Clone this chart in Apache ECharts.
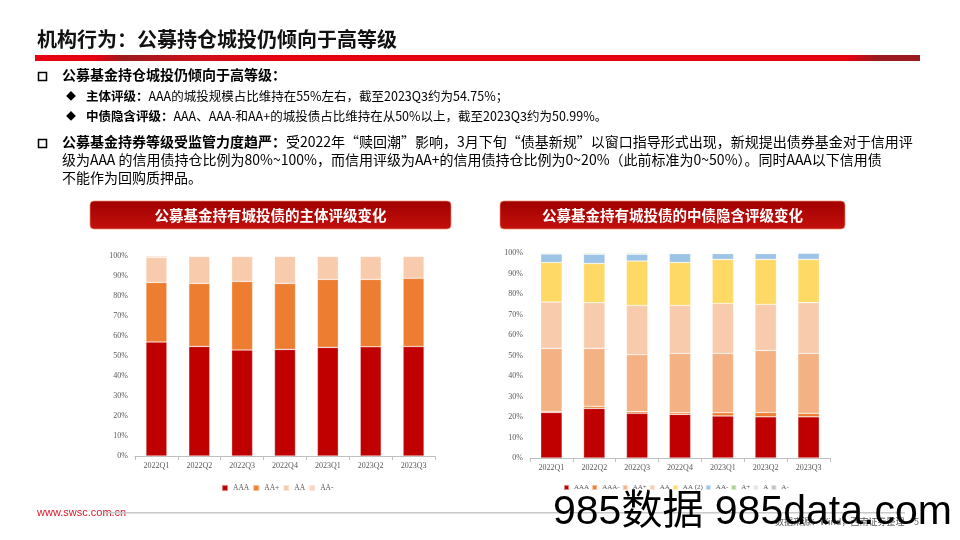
<!DOCTYPE html>
<html><head><meta charset="utf-8">
<script src="https://cdn.jsdelivr.net/npm/echarts@6/dist/echarts.min.js"></script>
<style>html,body{margin:0;padding:0;background:#fff}#c{width:960px;height:540px}</style>
</head><body><div id="c"></div>
<script>
// ---- data ----
var quarters = ['2022Q1','2022Q2','2022Q3','2022Q4','2023Q1','2023Q2','2023Q3'];
var yTicks = [0,10,20,30,40,50,60,70,80,90,100];
// Left chart: issuer rating (%)
var L_AAA = [57.0, 54.8, 53.0, 53.3, 54.3, 54.6, 54.75];
var L_AAp = [29.8, 31.5, 34.3, 33.0, 34.0, 33.7, 34.1];
var L_AA  = [12.5, 13.5, 12.5, 13.5, 11.5, 11.5, 11.0];
var L_AAm = [0.7, 0.2, 0.2, 0.2, 0.2, 0.2, 0.15];
// Right chart: ChinaBond implied rating (%)
var R_AAA  = [22.2, 24.2, 21.8, 21.3, 20.5, 20.1, 20.1];
var R_AAAm = [0.5, 1.0, 0.8, 0.8, 1.6, 2.1, 1.7];
var R_AAp  = [30.8, 28.3, 27.8, 28.9, 28.9, 30.3, 29.2];
var R_AA   = [22.6, 22.3, 24.0, 23.4, 24.4, 22.4, 24.8];
var R_AA2  = [19.3, 19.1, 21.7, 21.0, 21.5, 22.0, 21.1];
var R_AAm  = [4.1, 4.5, 3.3, 4.3, 2.8, 2.8, 3.1];
var R_Ap   = [0.5, 0.6, 0.6, 0.3, 0.3, 0.3, 0.0];
var R_A    = [0, 0, 0, 0, 0, 0, 0];
var R_Am   = [0, 0, 0, 0, 0, 0, 0];

var leftNames = ['AAA','AA+','AA','AA-'];
var leftColors = ['#C00000','#ED7D31','#F8CBAD','#FAD3BA'];
var leftData = [L_AAA, L_AAp, L_AA, L_AAm];
var rightNames = ['AAA','AAA-','AA+','AA','AA (2)','AA-','A+','A','A-'];
var rightColors = ['#C00000','#ED7D31','#F4B183','#F8CBAD','#FFD966','#9DC3E6','#A9D18E','#E3E3E3','#BFBFBF'];
var rightData = [R_AAA, R_AAAm, R_AAp, R_AA, R_AA2, R_AAm, R_Ap, R_A, R_Am];

var serif = '"Liberation Serif","Times New Roman",serif';
var cjk = '"Noto Sans CJK SC","Noto Sans",sans-serif';

var series = [];
leftNames.forEach(function(n,i){
  series.push({name:n,type:'bar',stack:'L',xAxisIndex:0,yAxisIndex:0,barWidth:'49%',
    data:leftData[i],itemStyle:{color:leftColors[i],borderColor:'rgba(255,255,255,0.5)',borderWidth:0.6}});
});
rightNames.forEach(function(n,i){
  series.push({name:n,type:'bar',stack:'R',xAxisIndex:1,yAxisIndex:1,barWidth:'50%',
    data:rightData[i],itemStyle:{color:rightColors[i],borderColor:'rgba(255,255,255,0.5)',borderWidth:0.6}});
});

function xAx(gi){return {type:'category',gridIndex:gi,data:quarters,
  axisLine:{lineStyle:{color:'#BFBFBF'}},
  axisTick:{show:true,length:4,lineStyle:{color:'#BFBFBF'}},
  axisLabel:{color:'#595959',fontFamily:serif,fontSize:8,margin:6}};}
function yAx(gi){return {type:'value',gridIndex:gi,min:0,max:100,interval:10,
  axisLine:{show:false},axisTick:{show:false},splitLine:{show:false},
  axisLabel:{color:'#595959',fontFamily:serif,fontSize:8,margin:7,formatter:'{value}%'}};}

function legendData(names,colors){return names.map(function(n,i){return {name:n,itemStyle:{color:colors[i]}};});}

var g = [];
// title
g.push({type:'text',left:37,top:29,style:{text:'机构行为：公募持仓城投仍倾向于高等级',font:'bold 20px '+cjk,fill:'#111'}});
// red rule
g.push({type:'rect',shape:{x:35,y:55,width:885,height:6},style:{fill:new echarts.graphic.LinearGradient(0,0,1,0,[
  {offset:0,color:'#E50012'},{offset:0.07,color:'#E50012'},{offset:0.10,color:'#9B1B1E'},{offset:0.19,color:'#D0101A'},
  {offset:0.26,color:'#E50012'},{offset:0.92,color:'#E50012'},{offset:0.95,color:'#9B1B1E'},{offset:1,color:'#9B1B1E'}])}});
// bullets
g.push({type:'rect',shape:{x:38.5,y:72.5,width:8,height:8},style:{fill:'none',stroke:'#000',lineWidth:1.5}});
g.push({type:'text',left:62,top:68,style:{text:'公募基金持仓城投仍倾向于高等级：',font:'bold 14px '+cjk,fill:'#000'}});
g.push({type:'text',left:66,top:91,style:{text:'◆',font:'10px '+cjk,fill:'#000'}});
g.push({type:'text',left:86,top:90,style:{text:'{b|主体评级：}AAA的城投规模占比维持在55%左右，截至2023Q3约为54.75%；',
  font:'12.5px '+cjk,fill:'#000',rich:{b:{font:'bold 12.5px '+cjk,fill:'#000'}}}});
g.push({type:'text',left:66,top:111,style:{text:'◆',font:'10px '+cjk,fill:'#000'}});
g.push({type:'text',left:86,top:110,style:{text:'{b|中债隐含评级：}AAA、AAA-和AA+的城投债占比维持在从50%以上，截至2023Q3约为50.99%。',
  font:'12.5px '+cjk,fill:'#000',rich:{b:{font:'bold 12.5px '+cjk,fill:'#000'}}}});
g.push({type:'rect',shape:{x:38.5,y:139.5,width:8,height:8},style:{fill:'none',stroke:'#000',lineWidth:1.5}});
g.push({type:'text',left:62,top:135,style:{text:'{b|公募基金持券等级受监管力度趋严：}受2022年“赎回潮”影响，3月下旬“债基新规”以窗口指导形式出现，新规提出债券基金对于信用评',
  font:'14px '+cjk,fill:'#000',rich:{b:{font:'bold 14px '+cjk,fill:'#000'}}}});
g.push({type:'text',left:62,top:153,style:{text:'级为AAA 的信用债持仓比例为80%~100%，而信用评级为AA+的信用债持仓比例为0~20%（此前标准为0~50%）。同时AAA以下信用债',
  font:'14px '+cjk,fill:'#000'}});
g.push({type:'text',left:62,top:171,style:{text:'不能作为回购质押品。',font:'14px '+cjk,fill:'#000'}});
// banners
function banner(x,w,txt){
  g.push({type:'rect',shape:{x:x,y:201,width:w,height:28,r:4},style:{
    fill:new echarts.graphic.LinearGradient(0,0,0,1,[{offset:0,color:'#A00000'},{offset:1,color:'#C4100C'}]),
    stroke:'rgba(240,140,110,0.7)',lineWidth:1}});
  g.push({type:'text',x:x+w/2,y:215,style:{text:txt,font:'bold 14.5px '+cjk,fill:'#fff',align:'center',verticalAlign:'middle'}});
}
banner(90,361,'公募基金持有城投债的主体评级变化');
banner(500,345,'公募基金持有城投债的中债隐含评级变化');
// footer
g.push({type:'text',left:37,top:507,style:{text:'www.swsc.com.cn',font:'11px "Liberation Sans",Arial,sans-serif',fill:'#D7182A'}});
g.push({type:'rect',shape:{x:105,y:512,width:800,height:1.5},style:{fill:'#C8C8C8'}});
g.push({type:'text',left:775,top:517,style:{text:'数据来源：Wind，西南证券整理',font:'9px '+cjk,fill:'#595959'}});
g.push({type:'text',left:914,top:517,style:{text:'5',font:'9px '+cjk,fill:'#595959'}});
g.push({type:'text',left:553,top:492,style:{text:'985数据 985data.com',font:'41px "Liberation Sans",Arial,'+cjk,fill:'#000'}});

var chart = echarts.init(document.getElementById('c'));
chart.setOption({
  animation:false,
  backgroundColor:'#fff',
  grid:[{left:135,top:256,width:300,height:200},{left:530,top:253,width:300,height:205}],
  xAxis:[xAx(0),xAx(1)],
  yAxis:[yAx(0),yAx(1)],
  legend:[
    {data:legendData(leftNames,leftColors),left:216,top:479,itemWidth:6,itemHeight:6,itemGap:3,icon:'rect',
     textStyle:{fontFamily:serif,fontSize:7.5,color:'#595959'},selectedMode:false},
    {data:legendData(rightNames,rightColors),left:558,top:479,itemWidth:5,itemHeight:5,itemGap:2,icon:'rect',
     textStyle:{fontFamily:serif,fontSize:7,color:'#595959'},selectedMode:false}
  ],
  series:series,
  graphic:g
});
</script></body></html>
